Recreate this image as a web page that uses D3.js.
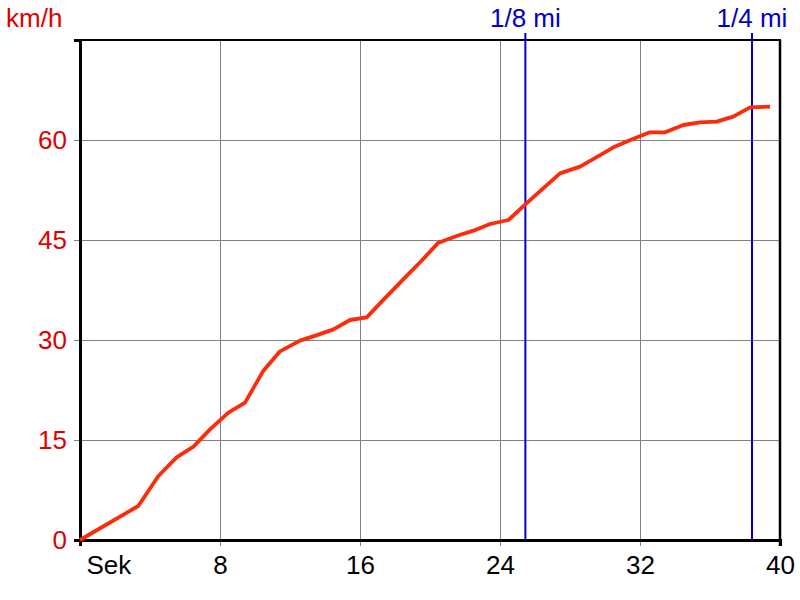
<!DOCTYPE html>
<html><head><meta charset="utf-8">
<script src="https://cdn.jsdelivr.net/npm/d3@7"></script>
<style>body{margin:0;background:#fff}svg{display:block}text{font-family:"Liberation Sans",Arial,sans-serif}</style>
</head><body><svg id="c" width="800" height="600"></svg>
<script>
const seconds = [0, 3.33, 4.48, 5.52, 6.48, 7.43, 8.48, 9.43, 10.48, 11.43, 12.57, 13.5, 14.48, 15.43, 16.38, 17.4, 18.4, 19.45, 20.48, 21.52, 22.48, 23.43, 24.48, 25.43, 26.45, 27.43, 28.57, 29.5, 30.48, 31.45, 32.57, 33.43, 34.48, 35.43, 36.38, 37.33, 38.29, 39.43];
const speed   = [0, 5.1, 9.6, 12.4, 14.0, 16.6, 19.1, 20.6, 25.4, 28.3, 29.9, 30.7, 31.6, 33.0, 33.4, 36.2, 38.9, 41.7, 44.6, 45.6, 46.4, 47.4, 48.0, 50.3, 52.7, 55.0, 56.0, 57.4, 58.9, 60.0, 61.15, 61.15, 62.25, 62.65, 62.75, 63.5, 64.9, 65.0];
const xTicks = [0, 8, 16, 24, 32, 40];
const xTickLabels = ["Sek", "8", "16", "24", "32", "40"];
const yTicks = [0, 15, 30, 45, 60];
const markers = [25.45, 38.4];
const markerLabels = ["1/8 mi", "1/4 mi"];

const FONT = 26;
const svg = d3.select("#c");
const x = d3.scaleLinear().domain([0, 40]).range([80, 780]);
const y = d3.scaleLinear().domain([0, 75]).range([540, 40]);

// grid (extends slightly outside plot like tick marks)
svg.append("g").selectAll("line").data(xTicks.slice(1, -1)).join("line")
  .attr("x1", d => x(d)).attr("x2", d => x(d)).attr("y1", 40).attr("y2", 546)
  .attr("stroke", "#808080").attr("stroke-width", 1).attr("shape-rendering", "crispEdges");
svg.append("g").selectAll("line").data(yTicks.slice(1)).join("line")
  .attr("x1", 74).attr("x2", 780).attr("y1", d => y(d)).attr("y2", d => y(d))
  .attr("stroke", "#808080").attr("stroke-width", 1).attr("shape-rendering", "crispEdges");

// frame
svg.append("line").attr("x1", 80).attr("x2", 781).attr("y1", 40).attr("y2", 40).attr("stroke", "#000").attr("stroke-width", 2);
svg.append("line").attr("x1", 780).attr("x2", 780).attr("y1", 40).attr("y2", 546).attr("stroke", "#000").attr("stroke-width", 2.5);

// axes
const xAxis = d3.axisBottom(x).tickValues(xTicks).tickFormat((d, i) => xTickLabels[i]).tickSize(6).tickPadding(9.5);
const gx = svg.append("g").attr("transform", "translate(0,540)").call(xAxis);
gx.select(".domain").attr("stroke", "#000").attr("stroke-width", 3);
gx.selectAll(".tick line").attr("stroke", (d, i) => (i === 0 || i === xTicks.length - 1) ? "#000" : "none").attr("stroke-width", 2);
gx.selectAll(".tick text").attr("fill", "#000").attr("font-size", FONT).attr("font-family", "Liberation Sans, Arial, sans-serif");
gx.selectAll(".tick text").filter((d, i) => i === 0).attr("text-anchor", "start").attr("x", 6);

const yAxis = d3.axisLeft(y).tickValues(yTicks).tickSize(6).tickPadding(7);
const gy = svg.append("g").attr("transform", "translate(80,0)").call(yAxis);
gy.select(".domain").attr("stroke", "#000").attr("stroke-width", 3);
gy.selectAll(".tick line").attr("stroke", (d, i) => i === 0 ? "#000" : "none").attr("stroke-width", 2);
gy.selectAll(".tick text").attr("fill", "#e00000").attr("font-size", FONT).attr("font-family", "Liberation Sans, Arial, sans-serif");

svg.append("text").attr("x", 6).attr("y", 27).attr("fill", "#e00000").attr("font-size", FONT).text("km/h");

// markers
svg.append("g").selectAll("line").data(markers).join("line")
  .attr("x1", d => x(d)).attr("x2", d => x(d)).attr("y1", 33).attr("y2", 540)
  .attr("stroke", "#0000c8").attr("stroke-width", 2);
svg.append("g").selectAll("text").data(markers).join("text")
  .attr("x", d => x(d)).attr("y", 27).attr("text-anchor", "middle")
  .attr("fill", "#0000c8").attr("font-size", FONT).text((d, i) => markerLabels[i]);

// line
svg.append("path").datum(seconds.map((s, i) => [s, speed[i]]))
  .attr("fill", "none").attr("stroke", "#ff2a0a").attr("stroke-width", 3.8).attr("stroke-linejoin", "round")
  .attr("d", d3.line().x(d => x(d[0])).y(d => y(d[1])));
</script></body></html>
